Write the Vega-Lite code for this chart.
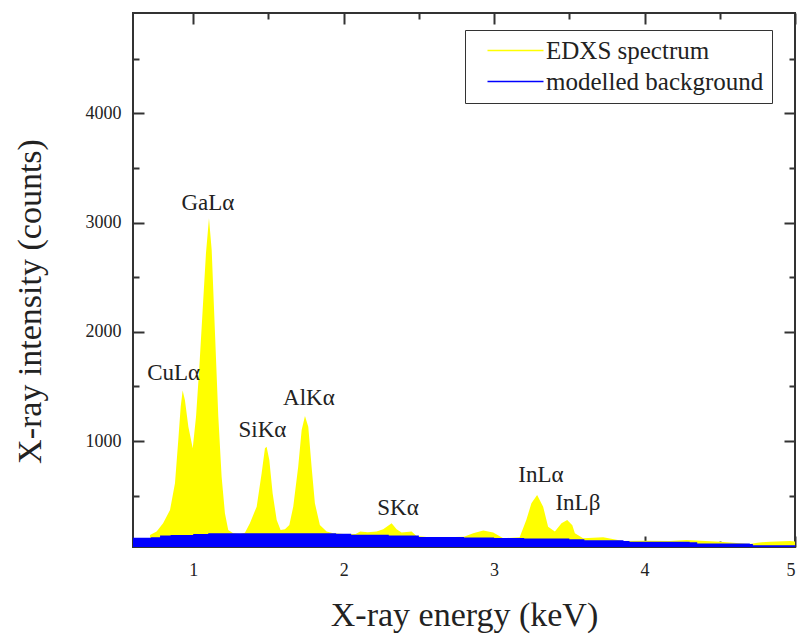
{
  "$schema": "https://vega.github.io/schema/vega-lite/v6.json",
  "width": 662,
  "height": 534,
  "autosize": {"type": "none"},
  "padding": {"left": 133, "top": 13, "right": 3, "bottom": 87},
  "background": "white",
  "config": {
    "view": {"stroke": "#333", "strokeWidth": 2},
    "axis": {
      "labelFont": "Liberation Serif",
      "titleFont": "Liberation Serif",
      "labelFontSize": 18,
      "titleFontSize": 34,
      "titleFontWeight": "normal",
      "labelColor": "#222",
      "titleColor": "#222",
      "tickColor": "#333",
      "tickWidth": 2,
      "domain": false,
      "grid": false,
      "format": "d"
    },
    "legend": {
      "labelFont": "Liberation Serif",
      "labelFontSize": 25,
      "labelColor": "#222",
      "labelLimit": 400,
      "symbolType": "M-5.6,0H5.6",
      "symbolSize": 100,
      "symbolStrokeWidth": 1.5,
      "strokeColor": "#333",
      "fillColor": "white",
      "padding": 8,
      "rowPadding": 5,
      "symbolOffset": 30,
      "labelOffset": 18
    }
  },
  "datasets": {
    "spectrum": [
      {"e": 0.713, "c": 140}, {"e": 0.757, "c": 171}, {"e": 0.80, "c": 247}, {"e": 0.846, "c": 369},
      {"e": 0.879, "c": 613}, {"e": 0.901, "c": 1010}, {"e": 0.917, "c": 1315}, {"e": 0.930, "c": 1462},
      {"e": 0.945, "c": 1376}, {"e": 0.968, "c": 1132}, {"e": 0.997, "c": 934}, {"e": 1.019, "c": 1224},
      {"e": 1.041, "c": 1681}, {"e": 1.063, "c": 2200}, {"e": 1.085, "c": 2720}, {"e": 1.105, "c": 3040},
      {"e": 1.123, "c": 2750}, {"e": 1.145, "c": 1987}, {"e": 1.167, "c": 1224}, {"e": 1.189, "c": 674},
      {"e": 1.211, "c": 339}, {"e": 1.233, "c": 186}, {"e": 1.266, "c": 156}, {"e": 1.311, "c": 150},
      {"e": 1.344, "c": 161}, {"e": 1.377, "c": 247}, {"e": 1.422, "c": 399}, {"e": 1.455, "c": 705},
      {"e": 1.477, "c": 934}, {"e": 1.488, "c": 949}, {"e": 1.506, "c": 827}, {"e": 1.528, "c": 522},
      {"e": 1.555, "c": 277}, {"e": 1.581, "c": 186}, {"e": 1.610, "c": 192}, {"e": 1.639, "c": 232},
      {"e": 1.665, "c": 399}, {"e": 1.698, "c": 766}, {"e": 1.721, "c": 1102}, {"e": 1.743, "c": 1230},
      {"e": 1.765, "c": 1132}, {"e": 1.787, "c": 766}, {"e": 1.809, "c": 430}, {"e": 1.842, "c": 232},
      {"e": 1.887, "c": 171}, {"e": 1.931, "c": 156}, {"e": 2.02, "c": 147}, {"e": 2.08, "c": 150},
      {"e": 2.11, "c": 171}, {"e": 2.16, "c": 165}, {"e": 2.219, "c": 171}, {"e": 2.263, "c": 192},
      {"e": 2.319, "c": 247}, {"e": 2.352, "c": 192}, {"e": 2.385, "c": 162}, {"e": 2.452, "c": 171},
      {"e": 2.484, "c": 131}, {"e": 2.57, "c": 119}, {"e": 2.68, "c": 119}, {"e": 2.80, "c": 125},
      {"e": 2.861, "c": 156}, {"e": 2.928, "c": 180}, {"e": 2.994, "c": 162}, {"e": 3.061, "c": 110},
      {"e": 3.17, "c": 119}, {"e": 3.214, "c": 277}, {"e": 3.248, "c": 430}, {"e": 3.286, "c": 506},
      {"e": 3.326, "c": 399}, {"e": 3.359, "c": 216}, {"e": 3.404, "c": 171}, {"e": 3.448, "c": 247},
      {"e": 3.486, "c": 277}, {"e": 3.52, "c": 230}, {"e": 3.537, "c": 156}, {"e": 3.592, "c": 110},
      {"e": 3.725, "c": 119}, {"e": 3.858, "c": 85}, {"e": 4.0, "c": 88}, {"e": 4.168, "c": 85},
      {"e": 4.279, "c": 94}, {"e": 4.50, "c": 79}, {"e": 4.70, "c": 58}, {"e": 4.75, "c": 70},
      {"e": 4.832, "c": 79}, {"e": 4.966, "c": 85}, {"e": 5.0, "c": 80}
    ],
    "background": [
      {"e": 0.6, "c": 115}, {"e": 0.72, "c": 120}, {"e": 0.78, "c": 135}, {"e": 0.85, "c": 140},
      {"e": 1.0, "c": 148}, {"e": 1.1, "c": 155}, {"e": 1.3, "c": 156}, {"e": 1.6, "c": 156},
      {"e": 1.95, "c": 152}, {"e": 2.05, "c": 142}, {"e": 2.3, "c": 135}, {"e": 2.5, "c": 122},
      {"e": 2.8, "c": 116}, {"e": 3.0, "c": 112}, {"e": 3.2, "c": 108}, {"e": 3.5, "c": 100},
      {"e": 3.6, "c": 92}, {"e": 3.86, "c": 85}, {"e": 3.9, "c": 78}, {"e": 4.3, "c": 74},
      {"e": 4.35, "c": 62}, {"e": 4.7, "c": 58}, {"e": 4.72, "c": 46}, {"e": 5.0, "c": 42}
    ],
    "peaksA": [
      {"e": 1.098, "c": 3116, "label": "GaLα"},
      {"e": 0.870, "c": 1560, "label": "CuLα"}
    ],
    "peaksB": [
      {"e": 1.460, "c": 1040, "label": "SiKα"},
      {"e": 1.769, "c": 1331, "label": "AlKα"},
      {"e": 2.361, "c": 323, "label": "SKα"}
    ],
    "peaksC": [
      {"e": 3.311, "c": 628, "label": "InLα"},
      {"e": 3.557, "c": 369, "label": "InLβ"}
    ]
  },
  "resolve": {"axis": {"x": "independent", "y": "independent"}},
  "layer": [
    {
      "data": {"name": "spectrum"},
      "mark": {"type": "area", "clip": true, "interpolate": "linear"},
      "encoding": {
        "x": {"field": "e", "type": "quantitative",
          "scale": {"domain": [0.6, 5.0], "nice": false, "zero": false},
          "axis": {"orient": "bottom", "values": [1, 2, 3, 4, 5], "ticks": false, "labelPadding": 14,
            "title": "X-ray energy (keV)", "titleY": 78, "titleBaseline": "alphabetic"}},
        "y": {"field": "c", "type": "quantitative",
          "scale": {"domain": [30, 4920], "nice": false, "zero": false},
          "axis": {"orient": "left", "values": [1000, 2000, 3000, 4000], "ticks": false, "labelPadding": 12,
            "title": "X-ray intensity (counts)", "titleX": -103, "titleY": 288, "titleAngle": 270,
            "titleBaseline": "middle", "titleAlign": "center"}},
        "color": {"datum": "EDXS spectrum", "type": "nominal",
          "scale": {"domain": ["EDXS spectrum", "modelled background"], "range": ["#ffff00", "#0000ff"]},
          "legend": {"orient": "none", "legendX": 332, "legendY": 17, "title": null,
            "encode": {"symbols": {"update": {"stroke": {"scale": "color", "field": "value"}}}}}}
      }
    },
    {
      "data": {"name": "background"},
      "mark": {"type": "area", "clip": true, "interpolate": "step-after"},
      "encoding": {
        "x": {"field": "e", "type": "quantitative",
          "scale": {"domain": [0.6, 5.0], "nice": false, "zero": false},
          "axis": {"orient": "bottom", "values": [1, 2, 3, 4, 5], "offset": -11, "tickSize": 11, "labels": false, "title": null}},
        "y": {"field": "c", "type": "quantitative",
          "scale": {"domain": [30, 4920], "nice": false, "zero": false},
          "axis": {"orient": "left", "values": [1000, 2000, 3000, 4000], "offset": -11, "tickSize": 11, "labels": false, "title": null}},
        "color": {"datum": "modelled background", "type": "nominal"}
      }
    },
    {
      "data": {"name": "peaksA"},
      "mark": {"type": "text", "font": "Liberation Serif", "fontSize": 23, "color": "#222", "align": "center", "baseline": "alphabetic"},
      "encoding": {
        "x": {"field": "e", "type": "quantitative",
          "scale": {"domain": [0.6, 5.0], "nice": false, "zero": false},
          "axis": {"orient": "bottom", "values": [1.5, 2.5, 3.5, 4.5], "offset": -6, "tickSize": 6, "labels": false, "title": null}},
        "y": {"field": "c", "type": "quantitative",
          "scale": {"domain": [30, 4920], "nice": false, "zero": false},
          "axis": {"orient": "left", "values": [500, 1500, 2500, 3500, 4500], "offset": -6, "tickSize": 6, "labels": false, "title": null}},
        "text": {"field": "label", "type": "nominal"}
      }
    },
    {
      "data": {"name": "peaksB"},
      "mark": {"type": "text", "font": "Liberation Serif", "fontSize": 23, "color": "#222", "align": "center", "baseline": "alphabetic"},
      "encoding": {
        "x": {"field": "e", "type": "quantitative",
          "scale": {"domain": [0.6, 5.0], "nice": false, "zero": false},
          "axis": {"orient": "top", "values": [1, 2, 3, 4, 5], "offset": -11, "tickSize": 11, "labels": false, "title": null}},
        "y": {"field": "c", "type": "quantitative",
          "scale": {"domain": [30, 4920], "nice": false, "zero": false},
          "axis": {"orient": "right", "values": [1000, 2000, 3000, 4000], "offset": -11, "tickSize": 11, "labels": false, "title": null}},
        "text": {"field": "label", "type": "nominal"}
      }
    },
    {
      "data": {"name": "peaksC"},
      "mark": {"type": "text", "font": "Liberation Serif", "fontSize": 23, "color": "#222", "align": "center", "baseline": "alphabetic"},
      "encoding": {
        "x": {"field": "e", "type": "quantitative",
          "scale": {"domain": [0.6, 5.0], "nice": false, "zero": false},
          "axis": {"orient": "top", "values": [1.5, 2.5, 3.5, 4.5], "offset": -6, "tickSize": 6, "labels": false, "title": null}},
        "y": {"field": "c", "type": "quantitative",
          "scale": {"domain": [30, 4920], "nice": false, "zero": false},
          "axis": {"orient": "right", "values": [500, 1500, 2500, 3500, 4500], "offset": -6, "tickSize": 6, "labels": false, "title": null}},
        "text": {"field": "label", "type": "nominal"}
      }
    }
  ]
}
